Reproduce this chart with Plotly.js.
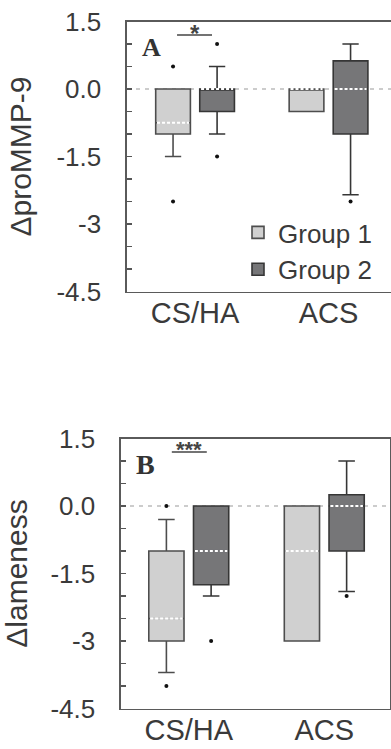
<!DOCTYPE html>
<html>
<head>
<meta charset="utf-8">
<script src="https://cdn.plot.ly/plotly-3.0.1.min.js"></script>
<style>
html, body { margin: 0; padding: 0; overflow: hidden; background: #fff; }
#chart { width: 391px; height: 749px; }
</style>
</head>
<body>
<div id="chart"></div>
<script>
// ---------- data ----------
const categories = ['CS/HA', 'ACS'];
const groupNames = ['Group 1', 'Group 2'];
const yTickVals = [1.5, 0, -1.5, -3, -4.5];
const yTickText = ['1.5', '0.0', '-1.5', '-3', '-4.5'];

// Panel A: ΔproMMP-9
const A_g1_q1 = [-1, -0.5];
const A_g1_median = [-0.75, 0];
const A_g1_q3 = [0, 0];
const A_g1_lower = [-1.5, -0.5];
const A_g1_upper = [0, 0];
const A_g1_outliers = [[0.5, -2.5], []];

const A_g2_q1 = [-0.5, -1];
const A_g2_median = [0, 0];
const A_g2_q3 = [0, 0.625];
const A_g2_lower = [-1, -2.35];
const A_g2_upper = [0.5, 1.0];
const A_g2_outliers = [[1.0, -1.5], [-2.5]];

// Panel B: Δlameness
const B_g1_q1 = [-3, -3];
const B_g1_median = [-2.5, -1];
const B_g1_q3 = [-1, 0];
const B_g1_lower = [-3.7, -3];
const B_g1_upper = [-0.3, 0];
const B_g1_outliers = [[0, -4], []];

const B_g2_q1 = [-1.75, -1];
const B_g2_median = [-1, 0];
const B_g2_q3 = [0, 0.25];
const B_g2_lower = [-2, -1.9];
const B_g2_upper = [0, 1.0];
const B_g2_outliers = [[-3], [-2]];

// ---------- styling / geometry ----------
const W = 391, H = 749;
const FONT = 'Liberation Sans, Arial, Helvetica, sans-serif';
const SERIF = 'Liberation Serif, Times New Roman, serif';
const fills = ['#d0d0d0', '#767678'];
const edges = ['#4d4d4d', '#363636'];
const offsets = [-0.165, 0.165];
const boxW = 0.26;

const catIdx = categories.map((c, i) => i);
const traces = [];

function addPanel(xa, ya, groups, showLegend) {
  groups.forEach((g, gi) => {
    const xs = catIdx.map(i => i + offsets[gi]);
    traces.push({
      type: 'box', name: groupNames[gi], legendgroup: groupNames[gi],
      showlegend: showLegend, xaxis: xa, yaxis: ya,
      x: xs, q1: g.q1, median: g.median, q3: g.q3,
      lowerfence: g.lower, upperfence: g.upper,
      boxpoints: false, width: boxW, whiskerwidth: 0.47,
      fillcolor: fills[gi], line: { color: edges[gi], width: 1.6 },
      hoverinfo: 'skip'
    });
  });
  // median overlays: mask the solid median then draw a white dashed one
  groups.forEach((g, gi) => {
    const mx = [], my = [], wx = [], wy = [];
    catIdx.forEach(i => {
      const p = i + offsets[gi];
      const m = g.median[i];
      if (m > g.q1[i] && m < g.q3[i]) {
        mx.push(p - boxW / 2 + 0.01, p + boxW / 2 - 0.01, null);
        my.push(m, m, null);
      }
      wx.push(p - boxW / 2 + 0.01, p + boxW / 2 - 0.01, null);
      wy.push(m, m, null);
    });
    traces.push({ type: 'scatter', mode: 'lines', xaxis: xa, yaxis: ya, x: mx, y: my,
      line: { color: fills[gi], width: 2.6 }, showlegend: false, hoverinfo: 'skip' });
    traces.push({ type: 'scatter', mode: 'lines', xaxis: xa, yaxis: ya, x: wx, y: wy,
      line: { color: '#ffffff', width: 2, dash: '3px,2px' }, showlegend: false, hoverinfo: 'skip' });
  });
  // outliers
  groups.forEach((g, gi) => {
    const ox = [], oy = [];
    catIdx.forEach(i => {
      g.outliers[i].forEach(v => { ox.push(i + offsets[gi]); oy.push(v); });
    });
    traces.push({ type: 'scatter', mode: 'markers', xaxis: xa, yaxis: ya, x: ox, y: oy,
      marker: { color: '#111', size: 4 }, showlegend: false, hoverinfo: 'skip' });
  });
}

addPanel('x', 'y', [
  { q1: A_g1_q1, median: A_g1_median, q3: A_g1_q3, lower: A_g1_lower, upper: A_g1_upper, outliers: A_g1_outliers },
  { q1: A_g2_q1, median: A_g2_median, q3: A_g2_q3, lower: A_g2_lower, upper: A_g2_upper, outliers: A_g2_outliers }
], true);
addPanel('x2', 'y2', [
  { q1: B_g1_q1, median: B_g1_median, q3: B_g1_q3, lower: B_g1_lower, upper: B_g1_upper, outliers: B_g1_outliers },
  { q1: B_g2_q1, median: B_g2_median, q3: B_g2_q3, lower: B_g2_lower, upper: B_g2_upper, outliers: B_g2_outliers }
], false);

const px = v => v / W;
const py = v => (H - v) / H;

function yAxis(title, dom, anchor, mirror) {
  return {
    domain: dom, anchor: anchor, range: [-4.5, 1.5],
    tickmode: 'array', tickvals: yTickVals, ticktext: yTickText,
    ticks: 'inside', ticklen: 5, tickwidth: 1.2, tickcolor: '#555',
    minor: { dtick: 0.5, tick0: 0, ticks: 'inside', ticklen: 5, tickwidth: 1.2, tickcolor: '#555' },
    showgrid: false, zeroline: false, showline: true, mirror: mirror,
    linecolor: '#5a5a5a', linewidth: 1.6,
    tickfont: { family: FONT, size: 26, color: '#3a3a3a' },
    ticklabelstandoff: 19,
    title: { text: title, font: { family: FONT, size: 30, color: '#3a3a3a' }, standoff: 16 },
    fixedrange: true
  };
}
function xAxis(dom, range, anchor) {
  return {
    domain: dom, anchor: anchor, range: range,
    tickmode: 'array', tickvals: catIdx, ticktext: categories,
    ticks: '', showgrid: false, zeroline: false, showline: true, mirror: true,
    linecolor: '#5a5a5a', linewidth: 1.6,
    tickfont: { family: FONT, size: 29, color: '#3a3a3a' },
    ticklabelstandoff: -5, fixedrange: true
  };
}

const layout = {
  width: W, height: H,
  margin: { l: 0, r: 0, t: 0, b: 0 },
  paper_bgcolor: '#ffffff', plot_bgcolor: '#ffffff',
  boxmode: 'overlay',
  xaxis: xAxis([px(127), 1], [-0.51, 1.468], 'y'),
  yaxis: yAxis('ΔproMMP-9', [py(291.5), py(21.5)], 'x', false),
  xaxis2: xAxis([px(121), px(390)], [-0.5, 1.485], 'y2'),
  yaxis2: yAxis('Δlameness', [py(708.5), py(438.5)], 'x2', true),
  showlegend: true,
  legend: {
    x: px(238), y: py(209), xanchor: 'left', yanchor: 'top',
    font: { family: FONT, size: 26, color: '#3a3a3a' },
    bgcolor: 'rgba(0,0,0,0)', tracegroupgap: 0, itemclick: false, itemdoubleclick: false
  },
  shapes: [
    { type: 'line', xref: 'x domain', yref: 'y', x0: 0, x1: 1, y0: 0, y1: 0, layer: 'below',
      line: { color: '#9a9a9a', width: 1.2, dash: '4px,5px' } },
    { type: 'line', xref: 'x2 domain', yref: 'y2', x0: 0, x1: 1, y0: 0, y1: 0, layer: 'below',
      line: { color: '#9a9a9a', width: 1.2, dash: '4px,5px' } },
    { type: 'line', xref: 'x', yref: 'y', x0: -0.135, x1: 0.127, y0: 1.2, y1: 1.2,
      line: { color: '#444', width: 1.4 } },
    { type: 'line', xref: 'x2', yref: 'y2', x0: -0.125, x1: 0.133, y0: 1.2, y1: 1.2,
      line: { color: '#444', width: 1.4 } }
  ],
  annotations: [
    { text: '<b>A</b>', xref: 'x', yref: 'y', x: -0.33, y: 0.92, xanchor: 'center', yanchor: 'middle',
      showarrow: false, font: { family: SERIF, size: 26, color: '#333' } },
    { text: '<b>B</b>', xref: 'x2', yref: 'y2', x: -0.32, y: 0.93, xanchor: 'center', yanchor: 'middle',
      showarrow: false, font: { family: SERIF, size: 28, color: '#333' } },
    { text: '<b>*</b>', xref: 'x', yref: 'y', x: -0.004, y: 1.2, yanchor: 'middle', yshift: 2,
      showarrow: false, font: { family: FONT, size: 24, color: '#444' } },
    { text: '<b>***</b>', xref: 'x2', yref: 'y2', x: 0.004, y: 1.2, yanchor: 'middle', yshift: 3,
      showarrow: false, font: { family: FONT, size: 22, color: '#444' } }
  ]
};

Plotly.newPlot('chart', traces, layout, { staticPlot: true, displayModeBar: false });
</script>
</body>
</html>
